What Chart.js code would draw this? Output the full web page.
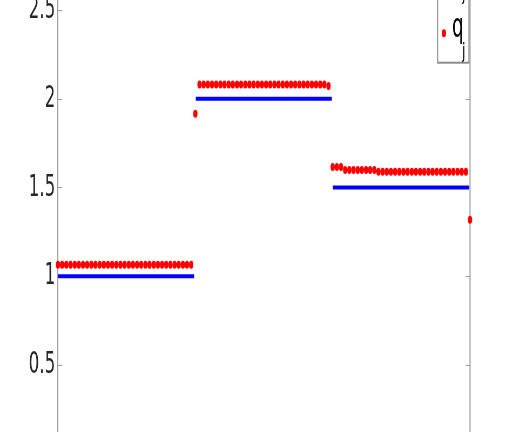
<!DOCTYPE html>
<html>
<head>
<meta charset="utf-8">
<script src="https://cdn.jsdelivr.net/npm/chart.js@4/dist/chart.umd.min.js"></script>
<style>
  html, body { margin: 0; padding: 0; background: #fff; overflow: hidden; }
  #plot { position: absolute; left: 0; top: -40px; transform: scaleX(0.54); transform-origin: 0 0; }
</style>
</head>
<body>
<canvas id="plot" width="944" height="512"></canvas>
<script>
const yTicks = [0.5, 1, 1.5, 2, 2.5];

// blue piecewise constant p_j (one value per block, block ends in j units)
const pValues = [1, 2, 1.5];
const pStart = [1, 34.1, 67];
const pEnd = [33.7, 66.8, 99.8];

// red q_j, j = 1..100
const qValues = [
  1.065, 1.065, 1.065, 1.065, 1.065, 1.065, 1.065, 1.065, 1.065, 1.065,
  1.065, 1.065, 1.065, 1.065, 1.065, 1.065, 1.065, 1.065, 1.065, 1.065,
  1.065, 1.065, 1.065, 1.065, 1.065, 1.065, 1.065, 1.065, 1.065, 1.065,
  1.065, 1.065, 1.065, 1.915, 2.08, 2.08, 2.08, 2.08, 2.08, 2.08,
  2.08, 2.08, 2.08, 2.08, 2.08, 2.08, 2.08, 2.08, 2.08, 2.08,
  2.08, 2.08, 2.08, 2.08, 2.08, 2.08, 2.08, 2.08, 2.08, 2.08,
  2.08, 2.08, 2.08, 2.08, 2.08, 2.072, 1.615, 1.615, 1.615, 1.598,
  1.598, 1.598, 1.598, 1.598, 1.598, 1.598, 1.598, 1.589, 1.589, 1.589,
  1.589, 1.589, 1.589, 1.589, 1.589, 1.589, 1.589, 1.589, 1.589, 1.589,
  1.589, 1.589, 1.589, 1.589, 1.589, 1.589, 1.589, 1.589, 1.589, 1.318
];

const pData = [];
pValues.forEach((v, k) => {
  pData.push({ x: pStart[k], y: v }, { x: pEnd[k], y: v }, { x: pEnd[k], y: null });
});
const qData = qValues.map((v, i) => ({ x: i + 1, y: v }));

const font = "'DejaVu Sans', sans-serif";

// matlab style box: right edge, inward ticks, legend with subscripts
const frame = {
  id: "frame",
  beforeDatasetsDraw(chart) {
    const { ctx, chartArea: a, scales: { y } } = chart;
    ctx.save();
    ctx.strokeStyle = "#9a9a9a";
    ctx.lineWidth = 2;
    ctx.beginPath();
    ctx.moveTo(a.right, a.top);
    ctx.lineTo(a.right, a.bottom);
    ctx.stroke();
    ctx.lineWidth = 1;
    ctx.beginPath();
    y.ticks.forEach((t) => {
      const py = Math.round(y.getPixelForValue(t.value)) + 0.5;
      ctx.moveTo(a.left, py);
      ctx.lineTo(a.left + 8, py);
      ctx.moveTo(a.right - 8, py);
      ctx.lineTo(a.right, py);
    });
    ctx.stroke();
    ctx.restore();
  },
  afterDraw(chart) {
    const { ctx, chartArea: a } = chart;
    const x0 = a.right - 60, x1 = a.right - 2;
    const bottom = a.top + 62.7;
    ctx.save();
    ctx.fillStyle = "#fff";
    ctx.fillRect(x0, 0, x1 - x0, bottom);
    ctx.strokeStyle = "#8c8c8c";
    ctx.lineWidth = 2;
    ctx.strokeRect(x0, -2, x1 - x0, bottom + 2);
    const rows = [a.top - 24.7, a.top + 33.3];
    chart.data.datasets.forEach((ds, i) => {
      const ry = rows[i];
      if (ds.showLine === false) {
        ctx.fillStyle = ds.pointBackgroundColor;
        ctx.beginPath();
        ctx.arc(x0 + 11.6, ry, 4, 0, Math.PI * 2);
        ctx.fill();
      } else {
        ctx.strokeStyle = ds.borderColor;
        ctx.lineWidth = 4;
        ctx.beginPath();
        ctx.moveTo(x0 + 4, ry);
        ctx.lineTo(x0 + 22, ry);
        ctx.stroke();
      }
      const [main, sub] = ds.label.split("_");
      ctx.fillStyle = "#000";
      ctx.textAlign = "left";
      ctx.textBaseline = "alphabetic";
      ctx.font = "34px " + font;
      ctx.fillText(main, x0 + 26.5, ry + 4);
      ctx.font = "22px " + font;
      ctx.fillText(sub, x0 + 45.4, ry + 24.2);
    });
    ctx.restore();
  },
};

new Chart(document.getElementById("plot"), {
  type: "line",
  data: {
    datasets: [
      {
        label: "p_j",
        data: pData,
        borderColor: "#0000ff",
        borderWidth: 4,
        borderCapStyle: "butt",
        pointRadius: 0,
        spanGaps: false,
        clip: false,
        order: 2,
      },
      {
        label: "q_j",
        data: qData,
        showLine: false,
        pointBackgroundColor: "#ff0000",
        pointBorderWidth: 0,
        pointRadius: 4,
        clip: false,
        order: 1,
      },
    ],
  },
  options: {
    responsive: false,
    animation: false,
    layout: { padding: { top: 40, bottom: 40, left: 0, right: 73.6 } },
    plugins: { legend: { display: false }, tooltip: { enabled: false } },
    scales: {
      x: { type: "linear", min: 1, max: 100, display: false },
      y: {
        min: 0.1225,
        max: 2.5563,
        afterBuildTicks: (axis) => {
          axis.ticks = yTicks.map((v) => ({ value: v }));
        },
        afterFit: (axis) => {
          axis.width = 107.4;
        },
        grid: { drawOnChartArea: false, drawTicks: false },
        border: { display: true, color: "#9a9a9a", width: 2 },
        ticks: {
          padding: 5,
          color: "#262626",
          font: { family: font, size: 31 },
          callback: (v) => String(v),
        },
      },
    },
  },
  plugins: [frame],
});
</script>
</body>
</html>
